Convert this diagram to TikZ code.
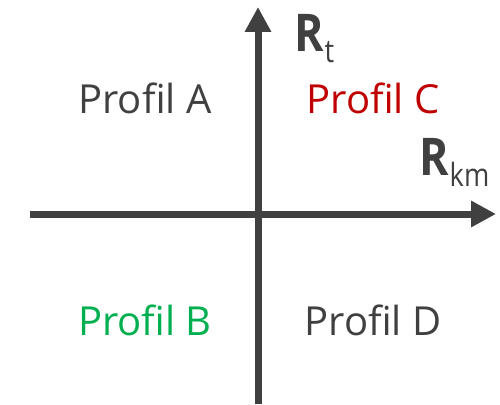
\documentclass[tikz,border=0pt]{standalone}
\usepackage{fontspec}
\setmainfont{Open Sans}
\usetikzlibrary{arrows.meta}

\definecolor{axisgray}{HTML}{404040}
\definecolor{profred}{HTML}{C00000}
\definecolor{profgreen}{HTML}{00B050}

\tikzset{
  axis/.style={line width=7pt,draw=axisgray,-{Triangle[length=25pt,width=25pt]}},
  profil/.style={anchor=base,inner sep=0pt,font=\fontsize{40}{40}\selectfont},
  axlabel/.style={anchor=base west,inner sep=0pt,text=axisgray}
}
% bold letter with a narrow, lowered subscript
\newcommand{\axname}[2]{\scalebox{0.86}[1]{\fontsize{52}{52}\selectfont\bfseries #1}\hspace{1pt}\raisebox{-11pt}{\scalebox{0.85}[1]{\fontsize{32}{32}\selectfont #2}}}

\begin{document}
\begin{tikzpicture}[x=1pt,y=-1pt]
  \useasboundingbox (0,0) rectangle (500,404);
  % axes
  \coordinate (xl) at (30,214);
  \coordinate (xr) at (496,214);
  \coordinate (yb) at (258,404);
  \coordinate (yt) at (258,7);
  \draw[axis] (xl) -- (xr);
  \draw[axis] (yb) -- (yt);
  % axis names
  \node[axlabel] (rt) at (294,52) {\axname{R}{t}};
  \node[axlabel] (rkm) at (419,175) {\axname{R}{km}};
  % quadrants
  \node[profil,text=axisgray] (pa) at (145,113) {Profil A};
  \node[profil,text=profred] (pc) at (373,113) {Profil C};
  \node[profil,text=profgreen] (pb) at (145,335) {Profil B};
  \node[profil,text=axisgray] (pd) at (373,335) {Profil D};
\end{tikzpicture}
\end{document}
